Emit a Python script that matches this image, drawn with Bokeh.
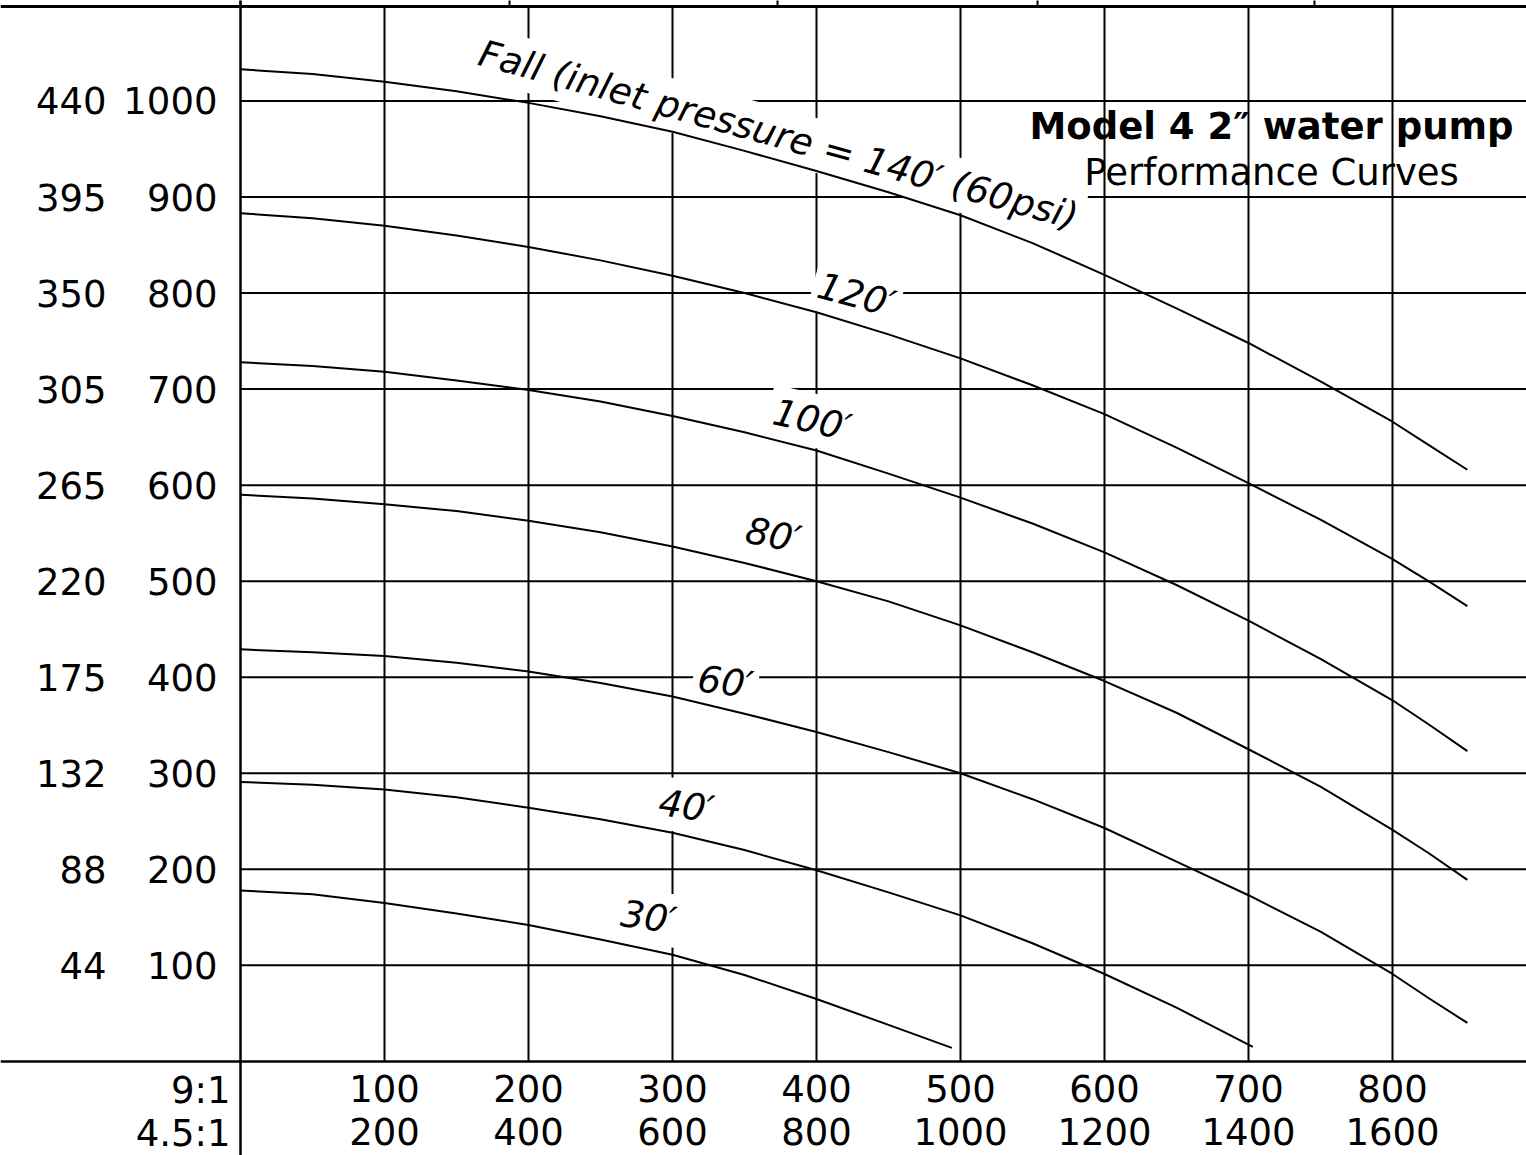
from bokeh.plotting import figure
from bokeh.models import ColumnDataSource, LinearAxis, FixedTicker, Range1d
from bokeh.core.properties import value
from bokeh.embed import file_html
from bokeh.resources import INLINE

FONT = "DejaVu Sans"

# ---- data (flow in 9:1 units, head in feet) ----
flow = [0, 50, 100, 150, 200, 250, 300, 350, 400, 450, 500, 550, 600, 650, 700, 750, 800, 825, 852]
head_140 = [1033, 1028, 1020, 1010, 998, 984, 968, 948, 927, 905, 881, 852, 819, 784, 748, 708, 666, 642, 616]
head_120 = [883, 878, 870, 860, 848, 834, 818, 800, 780, 757, 732, 704, 674, 639, 602, 564, 523, 500, 474]
head_100 = [728, 724, 718, 709, 699, 687, 672, 655, 636, 612, 587, 560, 530, 496, 459, 419, 376, 351, 323]
head_80 = [590, 586, 580, 573, 563, 551, 536, 519, 500, 479, 454, 426, 396, 363, 325, 286, 241, 217, 189]
head_60 = [429, 426, 422, 415, 406, 394, 380, 362, 343, 322, 300, 273, 243, 208, 173, 135, 91, 66, 40]
flow_40 = [0, 50, 100, 150, 200, 250, 300, 350, 400, 450, 500, 550, 600, 650, 703]
head_40 = [291, 288, 283, 275, 264, 252, 238, 220, 199, 176, 152, 123, 91, 56, 15]
flow_30 = [0, 50, 100, 150, 200, 250, 300, 350, 400, 450, 494]
head_30 = [178, 174, 165, 154, 142, 127, 111, 90, 65, 38, 14]

y_ticks = [100, 200, 300, 400, 500, 600, 700, 800, 900, 1000]
y_labels_inner = ["100", "200", "300", "400", "500", "600", "700", "800", "900", "1000"]
y_labels_outer = ["44", "88", "132", "175", "220", "265", "305", "350", "395", "440"]
x_ticks = [100, 200, 300, 400, 500, 600, 700, 800]
x_labels_9 = ["100", "200", "300", "400", "500", "600", "700", "800"]
x_labels_45 = ["200", "400", "600", "800", "1000", "1200", "1400", "1600"]
top_ticks = [0, 186.8, 372.9, 553.5, 745.8]
ratio_labels = ["9:1", "4.5:1"]

curve_labels = ["Fall (inlet pressure = 140\u2032 (60psi)", "120\u2032", "100\u2032",
                "80\u2032", "60\u2032", "40\u2032", "30\u2032"]
curve_label_x = [373.6, 427.8, 397.0, 370.0, 336.8, 309.7, 283.4]
curve_label_y = [964.6, 797.9, 667.7, 547.9, 394.8, 265.6, 150.0]
curve_label_angle = [-0.27, -0.26, -0.22, -0.19, -0.13, -0.14, -0.14]

title_main = "Model 4 2\u2033 water pump"
title_sub = "Performance Curves"

X0, X1 = -166.67, 893.06
Y0, Y1 = -98.0, 1104.6
TOP = 1098.4
FS = "37px"

p = figure(width=1526, height=1155, x_range=Range1d(X0, X1), y_range=Range1d(Y0, Y1),
           output_backend="svg", toolbar_location=None,
           x_axis_location=None, y_axis_location=None,
           min_border=0, outline_line_color=None)
p.grid.visible = False
p.background_fill_color = "white"

# grid lines
h_src = ColumnDataSource(dict(x0=[0] * len(y_ticks), x1=[X1 + 20] * len(y_ticks), y=y_ticks))
p.segment(x0="x0", y0="y", x1="x1", y1="y", source=h_src, line_color="black", line_width=2)
v_src = ColumnDataSource(dict(x=x_ticks, y0=[0] * len(x_ticks), y1=[TOP] * len(x_ticks)))
p.segment(x0="x", y0="y0", x1="x", y1="y1", source=v_src, line_color="black", line_width=2)

# curve labels with white boxes
lab_src = ColumnDataSource(dict(x=curve_label_x, y=curve_label_y, text=curve_labels,
                                angle=curve_label_angle))
p.text(x="x", y="y", text="text", angle="angle", source=lab_src,
       text_font=value(FONT), text_font_size=FS, text_font_style="italic",
       text_color="black", text_align="center", text_baseline="middle",
       background_fill_color="white", padding=5)

# curves
for xs, ys in [(flow, head_140), (flow, head_120), (flow, head_100), (flow, head_80),
               (flow, head_60), (flow_40, head_40), (flow_30, head_30)]:
    p.line(xs, ys, line_color="black", line_width=2)

# title
p.text(x=[716], y=[972.9], text=[title_main], text_font=value(FONT), text_font_size=FS,
       text_font_style="bold", text_color="black", text_align="center", text_baseline="middle")
p.text(x=[716], y=[926.0], text=[title_sub], text_font=value(FONT), text_font_size=FS,
       text_color="black", text_align="center", text_baseline="middle")

# axes
def style(ax, line=True):
    ax.major_label_text_font = FONT
    ax.major_label_text_font_size = FS
    ax.major_label_text_color = "black"
    ax.major_tick_in = 0
    ax.major_tick_out = 0
    ax.minor_tick_in = 0
    ax.minor_tick_out = 0
    if line:
        ax.axis_line_color = "black"
        ax.axis_line_width = 2.5
    else:
        ax.axis_line_color = None

yax_in = LinearAxis(fixed_location=0, ticker=FixedTicker(ticks=y_ticks),
                    major_label_overrides=dict(zip(y_ticks, y_labels_inner)),
                    major_label_standoff=23)
style(yax_in)
p.add_layout(yax_in, "left")
yax_out = LinearAxis(fixed_location=0, ticker=FixedTicker(ticks=y_ticks),
                     major_label_overrides=dict(zip(y_ticks, y_labels_outer)),
                     major_label_standoff=134)
style(yax_out, line=False)
p.add_layout(yax_out, "left")

xax_9 = LinearAxis(fixed_location=0, ticker=FixedTicker(ticks=x_ticks),
                   major_label_overrides=dict(zip(x_ticks, x_labels_9)),
                   major_label_standoff=14)
style(xax_9)
p.add_layout(xax_9, "below")
xax_45 = LinearAxis(fixed_location=0, ticker=FixedTicker(ticks=x_ticks),
                    major_label_overrides=dict(zip(x_ticks, x_labels_45)),
                    major_label_standoff=57)
style(xax_45, line=False)
p.add_layout(xax_45, "below")

# top border axis (cropped scale above the chart)
top_ax = LinearAxis(fixed_location=TOP, ticker=FixedTicker(ticks=top_ticks))
top_ax.axis_line_color = "black"
top_ax.axis_line_width = 3
top_ax.major_tick_line_color = "black"
top_ax.major_tick_line_width = 2
top_ax.major_tick_in = 0
top_ax.major_tick_out = 8
top_ax.minor_tick_in = 0
top_ax.minor_tick_out = 0
top_ax.major_label_text_color = None
p.add_layout(top_ax, "above")

# ratio labels left of the x axis origin
p.text(x=[0, 0], y=[0, 0], text=ratio_labels, x_offset=[-10, -10], y_offset=[8, 51],
       text_font=value(FONT), text_font_size=FS, text_color="black",
       text_align="right", text_baseline="top")

open("out.html", "w").write(file_html(p, INLINE))
